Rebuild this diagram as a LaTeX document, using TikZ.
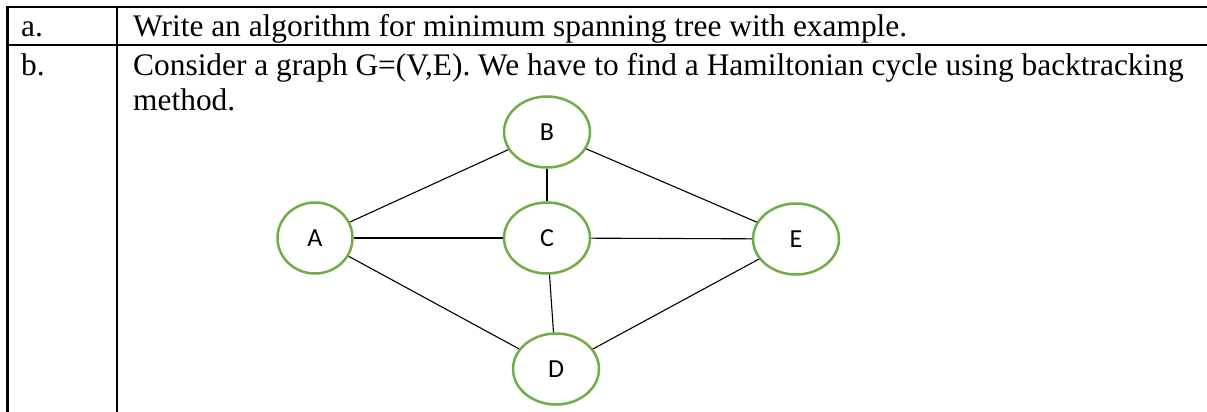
\documentclass[tikz,border=0pt]{standalone}
\usepackage{fontspec}
\setmainfont{Liberation Serif}
\newfontfamily\labelfont{Carlito}
\usetikzlibrary{shapes.geometric}
\definecolor{vgreen}{HTML}{70AD47}
\tikzset{
    vertex/.style={ellipse, draw=vgreen, line width=2.5pt, inner sep=0pt,
        minimum width=86pt, minimum height=71pt, font=\labelfont\fontsize{26}{30}\selectfont},
    link/.style={line width=1.1pt},
    gridline/.style={line width=2.2pt},
    cell/.style={anchor=base west, inner sep=0pt, font=\fontsize{31.4}{36}\selectfont}
}
\begin{document}
\begin{tikzpicture}[x=1pt, y=-1pt]
    \useasboundingbox (0,0) rectangle (1207,412);
    % table rules
    \draw[gridline] (6,7) -- (1207,7);
    \draw[gridline] (6,45) -- (1207,45);
    \foreach \x in {7.5,117} {
        \draw[gridline] (\x,6) -- (\x,412);
    }
    % question text
    \node[cell] (rowa) at (21,37) {a.};
    \node[cell] (texta) at (133,37) {Write an algorithm for minimum spanning tree with example.};
    \node[cell] (rowb) at (21,75) {b.};
    \node[cell] (textb) at (133,75) {Consider a graph G=(V,E). We have to find a Hamiltonian cycle using backtracking};
    \node[cell] (textc) at (133,110) {method.};
    % graph
    \node[vertex] (B) at (547,132) {B};
    \node[vertex, minimum width=75pt] (A) at (315,238) {A};
    \node[vertex] (C) at (547,238) {C};
    \node[vertex] (E) at (796,239) {E};
    \node[vertex] (D) at (556,369) {D};
    \foreach \u/\v in {A/B, A/C, B/C, C/E, C/D, A/D, D/E, B/E} {
        \draw[link] (\u) -- (\v);
    }
\end{tikzpicture}
\end{document}
